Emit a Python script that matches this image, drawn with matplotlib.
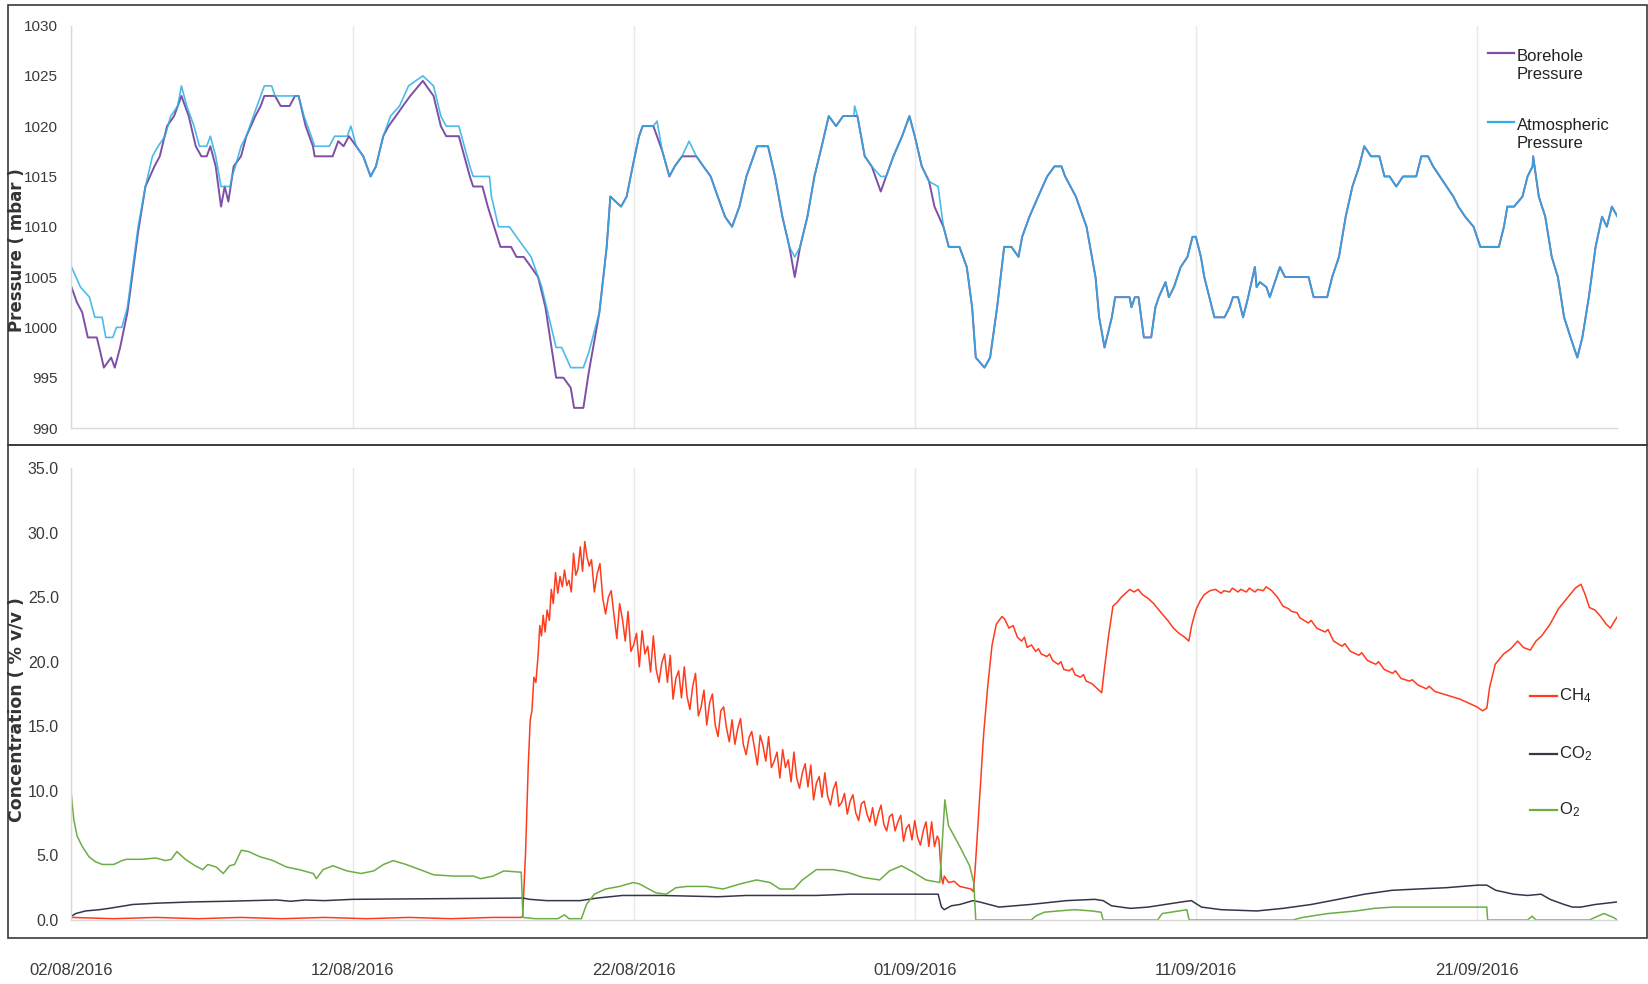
import matplotlib
matplotlib.use("Agg")
import matplotlib.pyplot as plt
import numpy as np
from matplotlib.lines import Line2D
from matplotlib.patches import Rectangle

# days counted from 02/08/2016 00:00
tick_days = [0, 10, 20, 30, 40, 50]
tick_labels = ["02/08/2016", "12/08/2016", "22/08/2016",
               "01/09/2016", "11/09/2016", "21/09/2016"]

# borehole pressure (mbar)
bh_day = [0.00, 0.19, 0.38, 0.58, 0.90, 1.03, 1.15, 1.41, 1.54, 1.73,
          1.99, 2.18, 2.37, 2.63, 2.95, 3.14, 3.40, 3.65, 3.91, 4.17,
          4.42, 4.62, 4.81, 4.94, 5.13, 5.32, 5.45, 5.58, 5.77, 6.03,
          6.22, 6.54, 6.73, 6.86, 7.24, 7.44, 7.76, 7.95, 8.08, 8.33,
          8.59, 8.65, 9.17, 9.29, 9.49, 9.68, 9.87, 10.13, 10.38, 10.64,
          10.83, 11.09, 11.28, 11.54, 11.79, 12.05, 12.50, 12.88, 13.14, 13.33,
          13.78, 14.17, 14.29, 14.62, 14.81, 15.26, 15.64, 15.83, 16.09, 16.35,
          16.60, 16.86, 17.24, 17.50, 17.76, 17.88, 18.21, 18.40, 18.78, 19.04,
          19.17, 19.55, 19.75, 20.00, 20.19, 20.32, 20.70, 21.02, 21.27, 21.46,
          21.72, 22.23, 22.48, 22.74, 22.99, 23.25, 23.50, 23.76, 24.01, 24.39,
          24.78, 25.03, 25.29, 25.54, 25.73, 25.92, 26.18, 26.43, 26.69, 26.94,
          27.20, 27.45, 27.83, 27.96, 28.22, 28.47, 28.79, 28.98, 29.24, 29.55,
          29.81, 30.00, 30.25, 30.51, 30.70, 31.02, 31.21, 31.59, 31.85, 32.04,
          32.17, 32.48, 32.68, 32.93, 33.18, 33.44, 33.69, 33.82, 34.08, 34.39,
          34.71, 34.97, 35.22, 35.35, 35.73, 36.11, 36.43, 36.56, 36.75, 37.01,
          37.13, 37.64, 37.71, 37.83, 37.96, 38.15, 38.41, 38.56, 38.68, 38.92,
          39.04, 39.22, 39.46, 39.70, 39.88, 40.00, 40.18, 40.30, 40.66, 41.02,
          41.20, 41.32, 41.50, 41.68, 41.86, 42.10, 42.16, 42.28, 42.51, 42.63,
          42.81, 42.99, 43.17, 44.01, 44.19, 44.67, 44.85, 45.09, 45.33, 45.57,
          45.81, 45.99, 46.23, 46.53, 46.71, 46.89, 47.13, 47.37, 47.84, 48.02,
          48.26, 48.44, 48.68, 48.92, 49.16, 49.34, 49.58, 49.88, 50.12, 50.78,
          50.96, 51.08, 51.32, 51.62, 51.80, 51.98, 52.00, 52.20, 52.43, 52.66,
          52.88, 53.10, 53.33, 53.57, 53.75, 53.98, 54.22, 54.45, 54.62, 54.80,
          55.00]
bh_mbar = [1004, 1002.5, 1001.5, 999, 999, 997.5, 996, 997, 996, 998,
           1001.5, 1005.5, 1009.5, 1014, 1016, 1017, 1020, 1021, 1023, 1021,
           1018, 1017, 1017, 1018, 1016, 1012, 1014, 1012.5, 1016, 1017,
           1019, 1021, 1022, 1023, 1023, 1022, 1022, 1023, 1023, 1020,
           1018, 1017, 1017, 1017, 1018.5, 1018, 1019, 1018, 1017, 1015,
           1016, 1019, 1020, 1021, 1022, 1023, 1024.5, 1023, 1020, 1019,
           1019, 1015, 1014, 1014, 1012, 1008, 1008, 1007, 1007, 1006,
           1005, 1002, 995, 995, 994, 992, 992, 995.5, 1001.5, 1008,
           1013, 1012, 1013, 1016.5, 1019, 1020, 1020, 1017.5, 1015, 1016,
           1017, 1017, 1016, 1015, 1013, 1011, 1010, 1012, 1015, 1018,
           1018, 1015, 1011, 1008, 1005, 1008, 1011, 1015, 1018, 1021,
           1020, 1021, 1021, 1021, 1017, 1016, 1013.5, 1015, 1017, 1019,
           1021, 1019, 1016, 1014.5, 1012, 1010, 1008, 1008, 1006, 1002,
           997, 996, 997, 1002, 1008, 1008, 1007, 1009, 1011, 1013,
           1015, 1016, 1016, 1015, 1013, 1010, 1005, 1001, 998, 1001,
           1003, 1003, 1002, 1003, 1003, 999, 999, 1002, 1003, 1004.5,
           1003, 1004, 1006, 1007, 1009, 1009, 1007, 1005, 1001, 1001,
           1002, 1003, 1003, 1001, 1003, 1006, 1004, 1004.5, 1004, 1003,
           1004.5, 1006, 1005, 1005, 1003, 1003, 1005, 1007, 1011, 1014,
           1016, 1018, 1017, 1017, 1015, 1015, 1014, 1015, 1015, 1017,
           1017, 1016, 1015, 1014, 1013, 1012, 1011, 1010, 1008, 1008,
           1010, 1012, 1012, 1013, 1015, 1016, 1017, 1013, 1011, 1007,
           1005, 1001, 999, 997, 999, 1003, 1008, 1011, 1010, 1012,
           1011]

# atmospheric pressure (mbar)
atm_day = [0.00, 0.32, 0.64, 0.83, 1.09, 1.22, 1.47, 1.60, 1.79, 1.99,
           2.18, 2.37, 2.63, 2.88, 3.08, 3.33, 3.53, 3.78, 3.91, 4.10,
           4.36, 4.55, 4.81, 4.94, 5.13, 5.32, 5.64, 5.71, 5.83, 6.03,
           6.22, 6.47, 6.73, 6.86, 7.12, 7.24, 7.76, 8.08, 8.27, 8.53,
           8.65, 9.17, 9.36, 9.81, 9.94, 10.13, 10.38, 10.64, 10.83, 11.09,
           11.35, 11.67, 11.99, 12.50, 12.88, 13.14, 13.33, 13.78, 14.17, 14.29,
           14.87, 14.94, 15.19, 15.58, 15.83, 16.09, 16.35, 16.73, 17.24, 17.44,
           17.76, 18.21, 18.40, 18.78, 19.04, 19.17, 19.55, 19.75, 20.00, 20.19,
           20.32, 20.70, 20.83, 21.02, 21.27, 21.46, 21.72, 21.97, 22.23, 22.48,
           22.74, 22.99, 23.25, 23.50, 23.76, 24.01, 24.39, 24.78, 25.03, 25.29,
           25.54, 25.73, 25.92, 26.18, 26.43, 26.69, 26.94, 27.20, 27.45, 27.83,
           27.86, 27.96, 28.22, 28.47, 28.79, 28.98, 29.24, 29.55, 29.81, 30.00,
           30.25, 30.51, 30.83, 31.02, 31.21, 31.59, 31.85, 32.04, 32.17, 32.48,
           32.68, 32.93, 33.18, 33.44, 33.69, 33.82, 34.08, 34.39, 34.71, 34.97,
           35.22, 35.35, 35.73, 36.11, 36.43, 36.56, 36.75, 37.01, 37.13, 37.64,
           37.71, 37.83, 37.96, 38.15, 38.41, 38.56, 38.68, 38.92, 39.04, 39.22,
           39.46, 39.70, 39.88, 40.00, 40.18, 40.30, 40.66, 41.02, 41.20, 41.32,
           41.50, 41.68, 41.86, 42.10, 42.16, 42.28, 42.51, 42.63, 42.81, 42.99,
           43.17, 44.01, 44.19, 44.67, 44.85, 45.09, 45.33, 45.57, 45.81, 45.99,
           46.23, 46.53, 46.71, 46.89, 47.13, 47.37, 47.84, 48.02, 48.26, 48.44,
           48.68, 48.92, 49.16, 49.34, 49.58, 49.88, 50.12, 50.78, 50.96, 51.08,
           51.32, 51.62, 51.80, 51.98, 52.00, 52.20, 52.43, 52.66, 52.88, 53.10,
           53.33, 53.57, 53.75, 53.98, 54.22, 54.45, 54.62, 54.80, 55.00]
atm_mbar = [1006, 1004, 1003, 1001, 1001, 999, 999, 1000, 1000, 1002,
            1006, 1010, 1014, 1017, 1018, 1019, 1021, 1022, 1024, 1022,
            1020, 1018, 1018, 1019, 1017, 1014, 1014, 1015, 1016, 1018,
            1019, 1021, 1023, 1024, 1024, 1023, 1023, 1023, 1021, 1019,
            1018, 1018, 1019, 1019, 1020, 1018, 1017, 1015, 1016, 1019,
            1021, 1022, 1024, 1025, 1024, 1021, 1020, 1020, 1016, 1015,
            1015, 1013, 1010, 1010, 1009, 1008, 1007, 1004, 998, 998,
            996, 996, 997.5, 1001.5, 1008, 1013, 1012, 1013, 1016.5, 1019,
            1020, 1020, 1020.5, 1017.5, 1015, 1016, 1017, 1018.5, 1017, 1016,
            1015, 1013, 1011, 1010, 1012, 1015, 1018, 1018, 1015, 1011,
            1008, 1007, 1008, 1011, 1015, 1018, 1021, 1020, 1021, 1021,
            1022, 1021, 1017, 1016, 1015, 1015, 1017, 1019, 1021, 1019,
            1016, 1014.5, 1014, 1010, 1008, 1008, 1006, 1002, 997, 996,
            997, 1002, 1008, 1008, 1007, 1009, 1011, 1013, 1015, 1016,
            1016, 1015, 1013, 1010, 1005, 1001, 998, 1001, 1003, 1003,
            1002, 1003, 1003, 999, 999, 1002, 1003, 1004.5, 1003, 1004,
            1006, 1007, 1009, 1009, 1007, 1005, 1001, 1001, 1002, 1003,
            1003, 1001, 1003, 1006, 1004, 1004.5, 1004, 1003, 1004.5, 1006,
            1005, 1005, 1003, 1003, 1005, 1007, 1011, 1014, 1016, 1018,
            1017, 1017, 1015, 1015, 1014, 1015, 1015, 1017, 1017, 1016,
            1015, 1014, 1013, 1012, 1011, 1010, 1008, 1008, 1010, 1012,
            1012, 1013, 1015, 1016, 1017, 1013, 1011, 1007, 1005, 1001,
            999, 997, 999, 1003, 1008, 1011, 1010, 1012, 1011]

# gas concentrations (% v/v) as (day, value)
ch4 = [(0.0, 0.2), (1.5, 0.1), (3.0, 0.2), (4.5, 0.1), (6.0, 0.2), (7.5, 0.1),
       (9.0, 0.2), (10.5, 0.1), (12.0, 0.2), (13.5, 0.1), (15.0, 0.2), (16.0, 0.2),
       (16.05, 0.3), (16.15, 5.0), (16.25, 12.0), (16.32, 15.5), (16.38, 16.2),
       (16.45, 18.8), (16.52, 18.4), (16.6, 20.5), (16.66, 22.8), (16.72, 22.0),
       (16.78, 23.6), (16.85, 22.3), (16.92, 24.0), (17.0, 23.2), (17.07, 25.6),
       (17.14, 24.5), (17.22, 26.9), (17.3, 25.3), (17.38, 26.6), (17.46, 25.8),
       (17.54, 27.1), (17.62, 25.9), (17.7, 26.3), (17.78, 25.4), (17.86, 28.4),
       (17.94, 26.7), (18.02, 27.2), (18.1, 28.9), (18.18, 27.0), (18.26, 29.3),
       (18.34, 28.1), (18.42, 27.4), (18.5, 27.9), (18.6, 25.4), (18.7, 26.8),
       (18.8, 27.6), (18.9, 24.9), (19.0, 23.7), (19.1, 25.0), (19.2, 25.5),
       (19.3, 23.6), (19.4, 21.8), (19.5, 24.5), (19.6, 23.3), (19.7, 21.6),
       (19.8, 23.9), (19.9, 20.8), (20.0, 21.3), (20.1, 22.2), (20.2, 19.6),
       (20.3, 22.4), (20.4, 20.6), (20.5, 21.2), (20.6, 19.2), (20.7, 22.0),
       (20.8, 19.4), (20.9, 18.4), (21.0, 19.9), (21.1, 20.6), (21.2, 18.4),
       (21.3, 20.5), (21.4, 17.1), (21.5, 18.7), (21.6, 19.3), (21.7, 17.2),
       (21.8, 19.6), (21.9, 17.3), (22.0, 16.3), (22.1, 18.1), (22.2, 19.1),
       (22.3, 15.8), (22.4, 16.5), (22.5, 17.8), (22.6, 15.1), (22.7, 16.8),
       (22.8, 17.5), (22.9, 15.1), (23.0, 14.2), (23.1, 16.2), (23.2, 16.5),
       (23.3, 14.9), (23.4, 13.8), (23.5, 15.5), (23.6, 13.6), (23.7, 14.8),
       (23.8, 15.6), (23.9, 13.6), (24.0, 12.8), (24.1, 14.1), (24.2, 14.6),
       (24.3, 13.3), (24.4, 12.0), (24.5, 14.3), (24.6, 13.5), (24.7, 12.3),
       (24.8, 14.2), (24.9, 11.8), (25.0, 12.3), (25.1, 13.0), (25.2, 11.0),
       (25.3, 13.2), (25.4, 11.8), (25.5, 12.4), (25.6, 10.7), (25.7, 13.0),
       (25.8, 11.0), (25.9, 10.2), (26.0, 11.4), (26.1, 12.1), (26.2, 10.3),
       (26.3, 12.0), (26.4, 9.3), (26.5, 10.6), (26.6, 11.1), (26.7, 9.5),
       (26.8, 11.4), (26.9, 9.6), (27.0, 8.9), (27.1, 10.1), (27.2, 10.7),
       (27.3, 8.8), (27.4, 9.1), (27.5, 9.8), (27.6, 8.2), (27.7, 9.2),
       (27.8, 9.7), (27.9, 8.3), (28.0, 7.7), (28.1, 9.0), (28.2, 9.2),
       (28.3, 8.2), (28.4, 7.6), (28.5, 8.7), (28.6, 7.3), (28.7, 8.2),
       (28.8, 8.9), (28.9, 7.4), (29.0, 6.9), (29.1, 8.0), (29.2, 8.2),
       (29.3, 6.9), (29.4, 7.6), (29.5, 8.1), (29.6, 6.1), (29.7, 7.1),
       (29.8, 7.4), (29.9, 6.2), (30.0, 7.7), (30.1, 6.4), (30.2, 5.8),
       (30.3, 6.9), (30.4, 7.6), (30.5, 5.7), (30.6, 7.6), (30.7, 5.7),
       (30.8, 6.5), (30.86, 6.2), (30.95, 3.3), (31.0, 2.8), (31.05, 3.4),
       (31.2, 2.9), (31.4, 3.0), (31.6, 2.6), (31.8, 2.5), (32.0, 2.4),
       (32.08, 2.2), (32.15, 4.0), (32.3, 9.2), (32.45, 14.4), (32.6, 18.2),
       (32.75, 21.3), (32.9, 22.9), (33.1, 23.5), (33.2, 23.3), (33.35, 22.6),
       (33.5, 22.8), (33.65, 21.9), (33.8, 21.6), (33.9, 21.9), (34.0, 21.1),
       (34.15, 21.3), (34.3, 20.8), (34.4, 21.0), (34.5, 20.6), (34.7, 20.4),
       (34.8, 20.6), (34.9, 20.1), (35.1, 19.8), (35.2, 20.0), (35.3, 19.4),
       (35.5, 19.3), (35.6, 19.5), (35.7, 19.0), (35.9, 18.8), (36.0, 19.0),
       (36.1, 18.5), (36.3, 18.3), (36.45, 18.0), (36.6, 17.7), (36.65, 17.6),
       (36.75, 19.5), (36.9, 22.1), (37.05, 24.3), (37.2, 24.6), (37.35, 25.0),
       (37.5, 25.3), (37.65, 25.6), (37.8, 25.4), (37.95, 25.6), (38.1, 25.2),
       (38.3, 24.9), (38.5, 24.5), (38.65, 24.1), (38.8, 23.7), (39.0, 23.2),
       (39.2, 22.6), (39.4, 22.2), (39.6, 21.9), (39.75, 21.6), (39.85, 22.8),
       (40.0, 24.0), (40.15, 24.7), (40.3, 25.2), (40.5, 25.5), (40.7, 25.6),
       (40.9, 25.3), (41.0, 25.5), (41.2, 25.4), (41.3, 25.7), (41.5, 25.4),
       (41.6, 25.6), (41.8, 25.4), (41.9, 25.7), (42.1, 25.4), (42.2, 25.6),
       (42.4, 25.5), (42.5, 25.8), (42.7, 25.5), (42.9, 25.0), (43.1, 24.3),
       (43.3, 24.1), (43.4, 23.9), (43.6, 23.8), (43.7, 23.4), (44.0, 23.0),
       (44.1, 23.2), (44.3, 22.6), (44.6, 22.3), (44.7, 22.5), (44.9, 21.6),
       (45.2, 21.2), (45.3, 21.4), (45.5, 20.8), (45.8, 20.5), (45.9, 20.7),
       (46.1, 20.1), (46.4, 19.8), (46.5, 20.0), (46.7, 19.4), (47.0, 19.1),
       (47.1, 19.3), (47.3, 18.7), (47.6, 18.5), (47.7, 18.6), (47.9, 18.2),
       (48.2, 17.9), (48.3, 18.1), (48.5, 17.7), (48.8, 17.5), (49.1, 17.3),
       (49.4, 17.1), (49.7, 16.8), (50.0, 16.5), (50.2, 16.2), (50.35, 16.4),
       (50.45, 18.0), (50.65, 19.8), (50.95, 20.6), (51.2, 21.0), (51.45, 21.6),
       (51.65, 21.1), (51.9, 20.9), (52.1, 21.6), (52.3, 22.0), (52.6, 22.9),
       (52.9, 24.1), (53.2, 24.9), (53.5, 25.7), (53.7, 26.0), (53.85, 25.2),
       (54.0, 24.2), (54.2, 24.0), (54.4, 23.5), (54.6, 22.9), (54.75, 22.6),
       (54.85, 23.0), (55.0, 23.5)]

co2 = [(0.0, 0.3), (0.15, 0.5), (0.5, 0.7), (1.0, 0.8), (1.33, 0.9), (1.9, 1.1),
       (2.17, 1.2), (3.0, 1.3), (4.3, 1.4), (5.5, 1.45), (7.3, 1.55), (7.8, 1.45),
       (8.3, 1.55), (9.0, 1.5), (10.0, 1.6), (16.06, 1.7), (16.3, 1.6), (16.9, 1.5),
       (18.1, 1.5), (18.7, 1.7), (19.6, 1.9), (21.0, 1.9), (23.0, 1.8), (24.0, 1.9),
       (26.5, 1.9), (27.7, 2.0), (30.83, 2.0), (30.95, 1.0), (31.05, 0.8), (31.3, 1.1),
       (31.6, 1.2), (32.07, 1.5), (32.3, 1.4), (33.0, 1.0), (34.1, 1.2), (35.4, 1.5),
       (36.4, 1.6), (36.7, 1.5), (37.0, 1.1), (37.67, 0.9), (38.3, 1.0), (38.9, 1.2),
       (39.5, 1.4), (39.84, 1.5), (40.2, 1.0), (40.9, 0.8), (42.17, 0.7), (43.1, 0.9),
       (44.1, 1.2), (45.06, 1.6), (46.0, 2.0), (46.98, 2.3), (47.9, 2.4), (48.9, 2.5),
       (50.03, 2.7), (50.35, 2.7), (50.67, 2.3), (51.3, 2.0), (51.8, 1.9), (52.28, 2.0),
       (52.6, 1.6), (53.1, 1.2), (53.4, 1.0), (53.7, 1.0), (54.2, 1.2), (54.6, 1.3),
       (55.0, 1.4)]

o2 = [(0.0, 9.6), (0.08, 7.8), (0.2, 6.5), (0.38, 5.7), (0.62, 4.9), (0.86, 4.5),
      (1.1, 4.3), (1.5, 4.3), (1.8, 4.6), (1.95, 4.7), (2.5, 4.7), (3.0, 4.8),
      (3.35, 4.6), (3.55, 4.7), (3.75, 5.3), (4.05, 4.7), (4.4, 4.2), (4.67, 3.9),
      (4.85, 4.3), (5.15, 4.1), (5.4, 3.6), (5.62, 4.2), (5.8, 4.3), (6.04, 5.4),
      (6.3, 5.3), (6.7, 4.9), (7.17, 4.6), (7.65, 4.1), (8.1, 3.9), (8.6, 3.6),
      (8.71, 3.2), (8.95, 3.9), (9.3, 4.2), (9.8, 3.8), (10.3, 3.6), (10.75, 3.8),
      (11.1, 4.3), (11.45, 4.6), (11.9, 4.3), (12.4, 3.9), (12.88, 3.5), (13.6, 3.4),
      (14.3, 3.4), (14.55, 3.2), (15.0, 3.4), (15.38, 3.8), (16.0, 3.7), (16.06, 0.2),
      (16.5, 0.1), (17.3, 0.1), (17.54, 0.4), (17.7, 0.1), (18.14, 0.1), (18.32, 1.2),
      (18.6, 2.0), (19.0, 2.4), (19.5, 2.6), (19.98, 2.9), (20.2, 2.8), (20.45, 2.5),
      (20.8, 2.1), (21.16, 2.0), (21.5, 2.5), (21.9, 2.6), (22.6, 2.6), (23.18, 2.4),
      (23.8, 2.8), (24.37, 3.1), (24.85, 2.9), (25.2, 2.4), (25.7, 2.4), (26.0, 3.1),
      (26.5, 3.9), (27.1, 3.9), (27.6, 3.7), (28.15, 3.3), (28.75, 3.1), (29.1, 3.8),
      (29.53, 4.2), (29.95, 3.7), (30.4, 3.1), (30.89, 2.9), (31.07, 9.3), (31.2, 7.3),
      (31.6, 5.7), (31.95, 4.2), (32.1, 2.9), (32.17, 0.0), (34.14, 0.0), (34.3, 0.3),
      (34.6, 0.6), (35.1, 0.7), (35.7, 0.8), (36.3, 0.7), (36.63, 0.6), (36.7, 0.0),
      (38.64, 0.0), (38.8, 0.5), (39.1, 0.6), (39.4, 0.7), (39.68, 0.8), (39.76, 0.0),
      (43.45, 0.0), (43.8, 0.2), (44.7, 0.5), (45.7, 0.7), (46.34, 0.9), (47.0, 1.0),
      (48.0, 1.0), (49.0, 1.0), (50.35, 1.0), (50.38, 0.0), (51.8, 0.0), (51.96, 0.3),
      (52.1, 0.0), (54.0, 0.0), (54.3, 0.3), (54.52, 0.5), (54.85, 0.2), (55.0, 0.0)]

c_bh, c_atm = "#7E4FA6", "#2CAFE4"
c_ch4, c_co2, c_o2 = "#FF3B1E", "#34374A", "#6DAD45"

plt.rcParams["font.family"] = ["Liberation Sans", "DejaVu Sans"]
plt.rcParams["mathtext.fontset"] = "custom"
plt.rcParams["mathtext.rm"] = "Liberation Sans"
plt.rcParams["mathtext.it"] = "Liberation Sans"

W, H = 1649, 984
fig = plt.figure(figsize=(W / 100, H / 100), dpi=100)

L, R = 71.5, 1617.5
ax_p = fig.add_axes([L / W, 1 - 428 / H, (R - L) / W, (428 - 25.5) / H])
ax_c = fig.add_axes([L / W, 1 - 920 / H, (R - L) / W, (920 - 468) / H])

for ax in (ax_p, ax_c):
    ax.set_xlim(0, 55)
    ax.set_xticks(tick_days)
    for s in ("top", "right"):
        ax.spines[s].set_visible(False)
    for s in ("left", "bottom"):
        ax.spines[s].set_color("#d9d9d9")
        ax.spines[s].set_linewidth(1.0)
    ax.tick_params(length=0, labelcolor="#3a3a3a")
    ax.grid(axis="x", color="#e8e8e8", lw=1.0)
    ax.set_axisbelow(True)

# pressure panel
ax_p.plot(bh_day, bh_mbar, color=c_bh, lw=1.4)
ax_p.plot(atm_day, atm_mbar, color=c_atm, lw=1.2, alpha=0.85)
ax_p.set_ylim(990, 1030)
ax_p.set_yticks(range(990, 1031, 5))
ax_p.set_xticklabels([])
ax_p.tick_params(axis="y", labelsize=11, pad=10)

# concentration panel
for series, col in ((ch4, c_ch4), (co2, c_co2), (o2, c_o2)):
    d, v = np.array(series).T
    ax_c.plot(d, v, color=col, lw=1.1)
ax_c.set_ylim(0, 35)
ax_c.set_yticks(np.arange(0, 36, 5))
ax_c.set_yticklabels([f"{v:.1f}" for v in np.arange(0, 36, 5)])
ax_c.set_xticklabels(tick_labels)
ax_c.tick_params(axis="y", labelsize=11.5, pad=9)
ax_c.tick_params(axis="x", labelsize=12, pad=31)

# panel frames
for y0, y1 in ((5.3, 445), (445, 938)):
    fig.add_artist(Rectangle((8.4 / W, 1 - y1 / H), (1647 - 8.4) / W, (y1 - y0) / H,
                             transform=fig.transFigure, fill=False,
                             ec="#3a3a3a", lw=1.2))

fig.text(17 / W, 1 - 250 / H, "Pressure ( mbar )", rotation=90, ha="center",
         va="center", family="DejaVu Sans", weight="bold", size=12, color="#333333")
fig.text(17 / W, 1 - 710 / H, "Concentration ( % v/v )", rotation=90, ha="center",
         va="center", family="DejaVu Sans", weight="bold", size=12.5, color="#333333")

# legends
for label, col, y in (("Borehole\nPressure", c_bh, 52.6),
                      ("Atmospheric\nPressure", c_atm, 122)):
    fig.add_artist(Line2D([1488 / W, 1514 / W], [1 - y / H] * 2, color=col, lw=1.6))
    fig.text(1517 / W, 1 - (y + 12.6) / H, label, va="center", ha="left",
             size=12, linespacing=1.25, color="#222222")

for label, col, y in ((r"CH$_4$", c_ch4, 696), (r"CO$_2$", c_co2, 754),
                      (r"O$_2$", c_o2, 810)):
    fig.add_artist(Line2D([1530 / W, 1557 / W], [1 - y / H] * 2, color=col, lw=1.6))
    fig.text(1559 / W, 1 - y / H, label, va="center", ha="left", size=12,
             color="#222222")

fig.savefig("out.png", dpi=100, facecolor="white")
